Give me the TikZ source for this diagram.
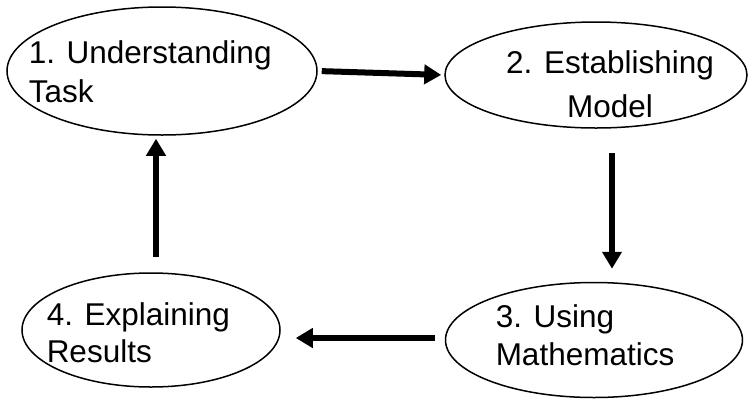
\documentclass[tikz,border=0pt]{standalone}
\usepackage{fontspec}
\setmainfont{Liberation Sans}
\usetikzlibrary{arrows.meta,shapes.geometric,calc}

\begin{document}
\begin{tikzpicture}[x=1pt, y=-1pt, >={Triangle[length=17pt,width=19pt]}, line width=1.5pt]
	\tikzstyle{phase}=[ellipse, draw=black, inner sep=0pt]
	\tikzstyle{phasetext}=[inner sep=0pt, font=\fontsize{31.5}{38}\selectfont, align=left, anchor=base west]
	\tikzstyle{flow}=[->, line width=6pt]
	\useasboundingbox (0,0) rectangle (748,400);
	% the four phases
	\node[phase, minimum width=310pt, minimum height=128pt] (E1) at (162,71)  {};
	\node[phase, minimum width=302pt, minimum height=106pt] (E2) at (596,75)  {};
	\node[phase, minimum width=297pt, minimum height=115pt] (E3) at (594,340) {};
	\node[phase, minimum width=258pt, minimum height=114pt] (E4) at (151,330) {};
	\node[phasetext]                           (T1) at (28,102)  {1. Understanding\\[1pt]Task};
	\node[phasetext, align=center, anchor=base] (T2) at (610,117) {2. Establishing\\[6pt]Model};
	\node[phasetext]                           (T3) at (495,365) {3. Using\\Mathematics};
	\node[phasetext]                           (T4) at (46,362)  {4. Explaining\\[-1pt]Results};
	% the cycle
	\draw[flow, shorten <=4pt, shorten >=3pt] (E1.east) -- (E2.west);
	\draw[flow, shorten <=24pt, shorten >=13pt] ([xshift=16pt]E2.south) -- ([xshift=16pt]E2.south |- E3.north);
	\draw[flow, shorten <=10pt, shorten >=15pt] ([yshift=2pt]E3.west) -- ([yshift=2pt]E3.west -| E4.east);
	\draw[flow, shorten <=15pt, shorten >=3pt] ([xshift=5pt]E4.north) -- ([xshift=5pt]E4.north |- E1.south);
\end{tikzpicture}
\end{document}
